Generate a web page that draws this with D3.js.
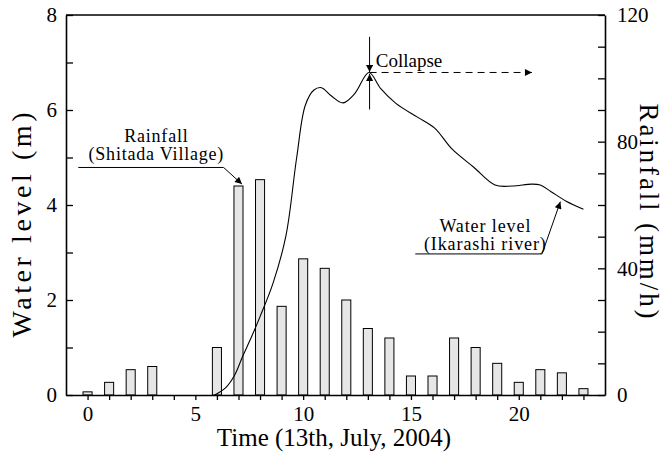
<!DOCTYPE html>
<html lang="en">
  <head>
    <meta charset="UTF-8" />
    <script src="https://d3js.org/d3.v7.min.js"></script>
    <title>Water level and rainfall</title>
    <style>
      body { margin: 0; background: #fff; }
      text { font-family: "Liberation Serif", "Times New Roman", serif; fill: #000; }
    </style>
  </head>
  <body>
    <svg id="chart" width="663" height="457"></svg>

    <script>
      // hourly rainfall (mm/h), Shitada Village
      const hours = d3.range(0, 24);
      const rainfall = [1, 4, 8, 9, 0, 0, 15, 66, 68, 28, 43, 40, 30, 21, 18, 6, 6, 18, 15, 10, 4, 8, 7, 2];

      // water level (m), Ikarashi river
      const levelTime = [5.9, 6.4, 6.8, 7.2, 7.6, 8.0, 8.6, 9.2, 9.7, 10.1, 10.5, 10.85, 11.3, 11.85, 12.4, 13.05, 13.6, 14.3, 15.3, 16.1, 16.9, 17.9, 18.9, 19.7, 20.6, 21.0, 21.5, 22.2, 23.0];
      const levelValue = [0, 0.15, 0.4, 0.82, 1.22, 1.65, 2.35, 3.35, 5.0, 6.1, 6.42, 6.47, 6.3, 6.15, 6.35, 6.79, 6.45, 6.14, 5.85, 5.62, 5.18, 4.8, 4.42, 4.4, 4.44, 4.42, 4.28, 4.08, 3.91];

      const xTicks = d3.range(0, 24);
      const levelTicks = d3.range(0, 9);
      const rainTicks = d3.range(0, 121, 10);

      const svg = d3.select("#chart");
      const margin = { top: 15, right: 58, bottom: 62, left: 66 };
      const width = +svg.attr("width") - margin.left - margin.right;
      const height = +svg.attr("height") - margin.top - margin.bottom;

      const g = svg.append("g").attr("transform", `translate(${margin.left},${margin.top})`);

      const x = d3.scaleLinear().domain([-1, 24]).range([0, width]);
      const yL = d3.scaleLinear().domain([0, 8]).range([height, 0]);
      const yR = d3.scaleLinear().domain([0, 120]).range([height, 0]);

      // arrow heads
      const defs = svg.append("defs");
      defs.append("marker")
        .attr("id", "arrow")
        .attr("viewBox", "0 0 10 10")
        .attr("refX", 10).attr("refY", 5)
        .attr("markerWidth", 9).attr("markerHeight", 7)
        .attr("markerUnits", "userSpaceOnUse")
        .attr("orient", "auto")
        .append("path")
        .attr("d", "M0,0L10,5L0,10z")
        .attr("fill", "#000");

      // bars
      const barW = x(0.42) - x(0);
      g.append("g")
        .selectAll("rect")
        .data(hours)
        .enter()
        .append("rect")
        .attr("x", (d) => x(d) - barW / 2)
        .attr("y", (d, i) => yR(rainfall[i]))
        .attr("width", barW)
        .attr("height", (d, i) => height - yR(rainfall[i]))
        .attr("fill", "#e6e6e6")
        .attr("stroke", "#000")
        .attr("stroke-width", 1);

      // water level line
      const line = d3.line()
        .x((d) => x(d[0]))
        .y((d) => yL(d[1]))
        .curve(d3.curveCatmullRom.alpha(0.5));

      g.append("path")
        .datum(levelTime.map((t, i) => [t, levelValue[i]]))
        .attr("d", line)
        .attr("fill", "none")
        .attr("stroke", "#000")
        .attr("stroke-width", 1.1);

      // axes
      const bottomAxis = d3.axisBottom(x)
        .tickValues(xTicks)
        .tickSizeInner(5).tickSizeOuter(0).tickPadding(6)
        .tickFormat((d) => (d % 5 === 0 ? d : ""));
      const leftAxis = d3.axisLeft(yL)
        .tickValues(levelTicks)
        .tickSizeInner(-7).tickSizeOuter(0).tickPadding(9)
        .tickFormat((d) => (d % 2 === 0 ? d : ""));
      const rightAxis = d3.axisRight(yR)
        .tickValues(rainTicks)
        .tickSizeInner(-7).tickSizeOuter(0).tickPadding(12)
        .tickFormat((d) => (d % 40 === 0 ? d : ""));

      const gx = g.append("g").attr("transform", `translate(0,${height})`).call(bottomAxis);
      const gl = g.append("g").call(leftAxis);
      const gr = g.append("g").attr("transform", `translate(${width},0)`).call(rightAxis);
      g.append("line")
        .attr("x1", 0).attr("x2", width)
        .attr("y1", 0).attr("y2", 0)
        .attr("stroke", "#000").attr("stroke-width", 1.6);

      [gx, gl, gr].forEach((a) => {
        a.select(".domain").attr("stroke-width", 1.6);
        a.selectAll(".tick line").attr("stroke-width", 1.3);
        a.selectAll(".tick text").attr("font-size", 21).attr("font-family", null);
      });

      // axis titles
      g.append("text")
        .attr("x", x(11.43)).attr("y", height + 51)
        .attr("text-anchor", "middle")
        .attr("font-size", 25)
        .text("Time  (13th, July, 2004)");

      g.append("text")
        .attr("transform", `translate(${-35},${210}) rotate(-90)`)
        .attr("text-anchor", "middle")
        .attr("font-size", 28)
        .attr("textLength", 225)
        .attr("lengthAdjust", "spacing")
        .text("Water level  (m)");

      g.append("text")
        .attr("transform", `translate(${width + 35},${196}) rotate(90)`)
        .attr("text-anchor", "middle")
        .attr("font-size", 27)
        .attr("textLength", 215)
        .attr("lengthAdjust", "spacing")
        .text("Rainfall  (mm/h)");

      // annotations
      const ann = g.append("g").attr("stroke", "#000").attr("fill", "none").attr("stroke-width", 1);

      // rainfall label
      ann.append("line")
        .attr("x1", x(-0.43)).attr("y1", yL(4.79))
        .attr("x2", x(6.31)).attr("y2", yL(4.79));
      ann.append("line")
        .attr("x1", x(6.31)).attr("y1", yL(4.79))
        .attr("x2", x(7.16)).attr("y2", yL(4.44))
        .attr("marker-end", "url(#arrow)");

      g.append("text")
        .attr("x", x(3.19)).attr("y", yL(5.33))
        .attr("text-anchor", "middle").attr("font-size", 18).attr("letter-spacing", 0.8)
        .text("Rainfall");
      g.append("text")
        .attr("x", x(3.19)).attr("y", yL(4.95))
        .attr("text-anchor", "middle").attr("font-size", 18).attr("letter-spacing", 0.8)
        .text("(Shitada Village)");

      // water level label
      ann.append("line")
        .attr("x1", x(15.2)).attr("y1", yL(2.97))
        .attr("x2", x(21.08)).attr("y2", yL(2.97));
      ann.append("line")
        .attr("x1", x(21.08)).attr("y1", yL(2.97))
        .attr("x2", x(21.93)).attr("y2", yL(4.07))
        .attr("marker-end", "url(#arrow)");

      g.append("text")
        .attr("x", x(18.45)).attr("y", yL(3.44))
        .attr("text-anchor", "middle").attr("font-size", 18).attr("letter-spacing", 0.9)
        .text("Water level");
      g.append("text")
        .attr("x", x(18.45)).attr("y", yL(3.05))
        .attr("text-anchor", "middle").attr("font-size", 18).attr("letter-spacing", 0.9)
        .text("(Ikarashi river)");

      // collapse
      ann.append("line")
        .attr("x1", x(13.08)).attr("y1", yL(7.54))
        .attr("x2", x(13.08)).attr("y2", yL(6.8))
        .attr("marker-end", "url(#arrow)");
      ann.append("line")
        .attr("x1", x(13.08)).attr("y1", yL(6.01))
        .attr("x2", x(13.08)).attr("y2", yL(6.76))
        .attr("marker-end", "url(#arrow)");
      ann.append("line")
        .attr("x1", x(13.08)).attr("y1", yL(6.79))
        .attr("x2", x(20.61)).attr("y2", yL(6.79))
        .attr("stroke-dasharray", "7,5")
        .attr("marker-end", "url(#arrow)");

      g.append("text")
        .attr("x", x(13.37)).attr("y", yL(6.91))
        .attr("font-size", 19)
        .text("Collapse");
    </script>
  </body>
</html>
